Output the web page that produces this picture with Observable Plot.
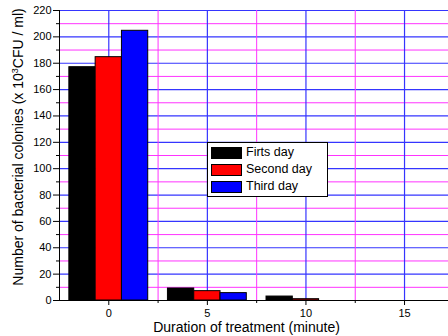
<!DOCTYPE html>
<html><head><meta charset="utf-8">
<script src="https://cdn.jsdelivr.net/npm/d3@7"></script>
<script src="https://cdn.jsdelivr.net/npm/@observablehq/plot@0.6"></script>
<style>
body{margin:0;background:#fff;font-family:"Liberation Sans",Arial,sans-serif}
#wrap{position:relative;width:448px;height:336px;overflow:hidden}
#legend{position:absolute;left:207px;top:142px;width:116px;border:1px solid #000;background:#fff;padding:1px 0 1px 3px;font-size:12.5px;line-height:17px}
.row{display:flex;align-items:center;height:17px}
.sw{width:31px;height:12px;border:1px solid #000;margin-right:4px;box-sizing:border-box}
#ylab{position:absolute;left:18px;top:146.5px;transform:translate(-50%,-50%) rotate(-90deg);white-space:nowrap;font-size:14px;line-height:14px}
#ylab sup{font-size:9px;vertical-align:5px;line-height:0}
</style>
</head><body>
<div id="wrap"><div id="legend"></div><div id="ylab"></div></div>
<script>
const durations = [0, 5, 10, 15];
const seriesNames = ["Firts day", "Second day", "Third day"];
const seriesColors = ["#000000", "#ff0000", "#0000ff"];
const firstDay = [177, 9.1, 3.0, 0];
const secondDay = [184.6, 7.1, 1.0, 0];
const thirdDay = [204.6, 5.6, 0, 0];
const yMajor = [0, 20, 40, 60, 80, 100, 120, 140, 160, 180, 200, 220];
const yMinor = [10, 30, 50, 70, 90, 110, 130, 150, 170, 190, 210];
const xMajor = [0, 5, 10, 15];
const xMinor = [2.5, 7.5, 12.5, 17.5];
const yLabelParts = ["Number of bacterial colonies (x 10", "3", "CFU / ml)"];
const xLabel = "Duration of treatment (minute)";

const allSeries = [firstDay, secondDay, thirdDay];
const barW = 4 / 3;
const rows = [];
allSeries.forEach((vals, i) => vals.forEach((v, j) => {
  const c = durations[j] + (i - 1) * barW;
  rows.push({series: seriesNames[i], x1: c - barW / 2, x2: c + barW / 2, v});
}));

const chart = Plot.plot({
  width: 448, height: 336,
  marginLeft: 59, marginTop: 10, marginBottom: 36, marginRight: 0,
  style: {fontFamily: "'Liberation Sans', Arial, sans-serif", fontSize: "11px", color: "#000", background: "#fff", overflow: "visible"},
  x: {domain: [-2.5, 17.23]},
  y: {domain: [0, 220]},
  color: {domain: seriesNames, range: seriesColors},
  marks: [
    Plot.ruleY(yMinor, {stroke: "#ff33ff", strokeWidth: 1}),
    Plot.ruleY(yMajor, {stroke: "#3535ff", strokeWidth: 1.2}),
    Plot.ruleX(xMinor.filter(d => d < 17.2), {stroke: "#ff33ff", strokeWidth: 1}),
    Plot.ruleX(xMajor, {stroke: "#3535ff", strokeWidth: 1.2}),
    Plot.rectY(rows.filter(d => d.v > 0), {x1: "x1", x2: "x2", y1: 0, y2: "v", fill: "series", stroke: "#000", strokeWidth: 1}),
    Plot.ruleX([-2.5], {stroke: "#000"}),
    Plot.ruleY([0], {stroke: "#000"}),
    Plot.axisY({ticks: yMajor, tickSize: 6, tickPadding: 2, label: null}),
    Plot.axisY({ticks: yMinor, tickSize: 3, tickFormat: () => "", label: null}),
    Plot.axisX({ticks: xMajor, tickSize: 5, tickPadding: 4, label: null}),
    Plot.axisX({ticks: xMinor.filter(d => d < 17.2), tickSize: 3, tickFormat: () => "", label: null}),
    Plot.text([xLabel], {frameAnchor: "bottom", dy: 31, dx: -7.5, fontSize: 14})
  ]
});
document.getElementById("wrap").prepend(chart);
const yl = document.getElementById("ylab");
yl.append(yLabelParts[0]);
const sup = document.createElement("sup"); sup.textContent = yLabelParts[1]; yl.append(sup);
yl.append(yLabelParts[2]);
const lg = document.getElementById("legend");
seriesNames.forEach((n, i) => {
  const r = document.createElement("div"); r.className = "row";
  const s = document.createElement("div"); s.className = "sw"; s.style.background = seriesColors[i];
  const t = document.createElement("span"); t.textContent = n;
  r.append(s, t); lg.append(r);
});
</script>
</body></html>
